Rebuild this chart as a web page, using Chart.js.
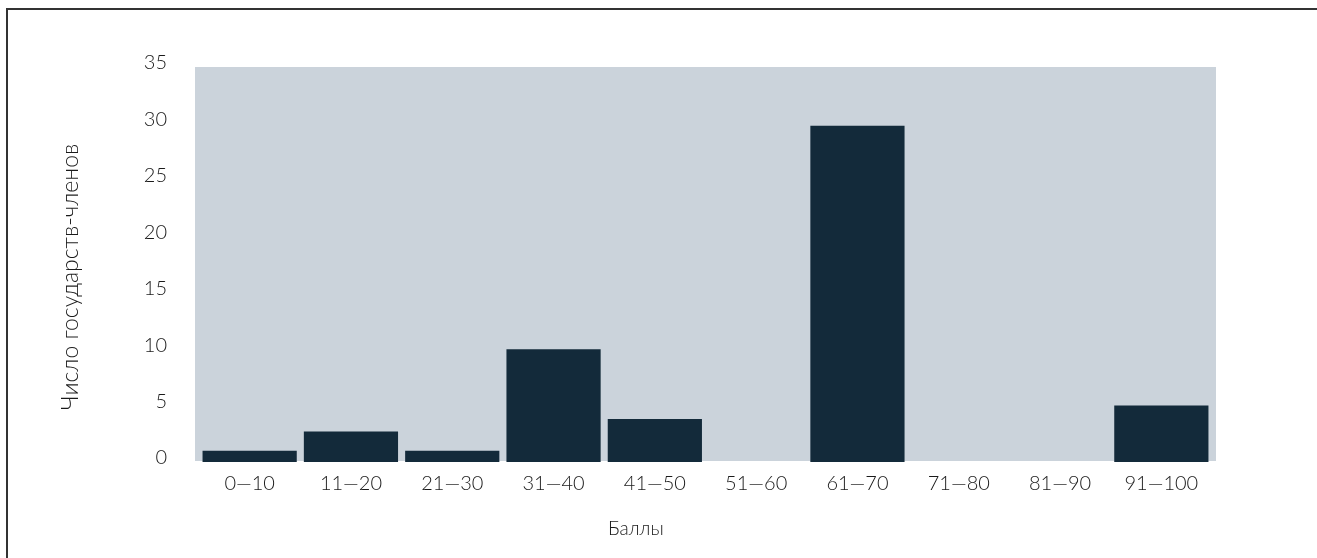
<!DOCTYPE html>
<html>
<head>
<meta charset="utf-8">
<script src="https://cdn.jsdelivr.net/npm/chart.js@4/dist/chart.umd.min.js"></script>
<style>
  html, body { margin: 0; padding: 0; background: #fff; }
  body { width: 1317px; height: 558px; position: relative; overflow: hidden; }
  .frame { position: absolute; left: 6px; top: 8px; width: 1400px; height: 700px; border: 2px solid #333; }
  #wrap { position: absolute; left: 0; top: 0; width: 1317px; height: 558px; }
</style>
</head>
<body>
<div class="frame"></div>
<div id="wrap"><canvas id="scoreChart"></canvas></div>
<script>
// ===== DATA =====
const categories = ['0—10','11—20','21—30','31—40','41—50','51—60','61—70','71—80','81—90','91—100'];
const memberStates = [1, 2.7, 1, 10, 3.8, 0, 29.8, 0, 0, 5];
const yTicks = [0, 5, 10, 15, 20, 25, 30, 35];

const fontFamily = 'Lato, "Open Sans", sans-serif';
const tickFont = { family: fontFamily, size: 20, weight: 300 };
const textColor = '#1a1a1a';

// grey plot background, a little wider than the bar area
const plotBg = {
  id: 'plotBg',
  beforeDraw(chart) {
    const a = chart.chartArea;
    const c = chart.ctx;
    c.save();
    c.fillStyle = '#CBD3DB';
    c.fillRect(a.left - 4, a.top, a.right - a.left + 8, a.bottom - a.top - 1);
    c.restore();
  }
};

new Chart(document.getElementById('scoreChart'), {
  type: 'bar',
  data: {
    labels: categories,
    datasets: [{
      label: 'Число государств-членов',
      data: memberStates,
      backgroundColor: '#132A3A',
      borderWidth: 0,
      categoryPercentage: 1,
      barPercentage: 0.93
    }]
  },
  options: {
    responsive: true,
    maintainAspectRatio: false,
    animation: false,
    layout: { padding: { top: 67, right: 105, left: 0, bottom: 0 } },
    plugins: { legend: { display: false }, tooltip: { enabled: false } },
    scales: {
      x: {
        grid: { display: false, drawTicks: false },
        border: { display: false },
        ticks: { font: tickFont, color: textColor, padding: 10, maxRotation: 0, autoSkip: false },
        title: { display: true, text: 'Баллы' + '\u00A0'.repeat(27), font: { family: fontFamily, size: 19, weight: 300 }, color: textColor, padding: { top: 0, bottom: 18 } },
        afterFit(s) { s.height = 96; }
      },
      y: {
        min: 0,
        max: 35,
        afterBuildTicks(s) { s.ticks = yTicks.map(v => ({ value: v })); },
        grid: { display: false, drawTicks: false },
        border: { display: false },
        ticks: { font: tickFont, color: textColor, padding: 32, labelOffset: -4 },
        title: { display: true, text: 'Число государств-членов' + '\u00A0'.repeat(4), font: { family: fontFamily, size: 23, weight: 300 }, color: textColor, padding: { top: 57, bottom: 0 } },
        afterFit(s) { s.width = 199; }
      }
    }
  },
  plugins: [plotBg]
});
</script>
</body>
</html>
